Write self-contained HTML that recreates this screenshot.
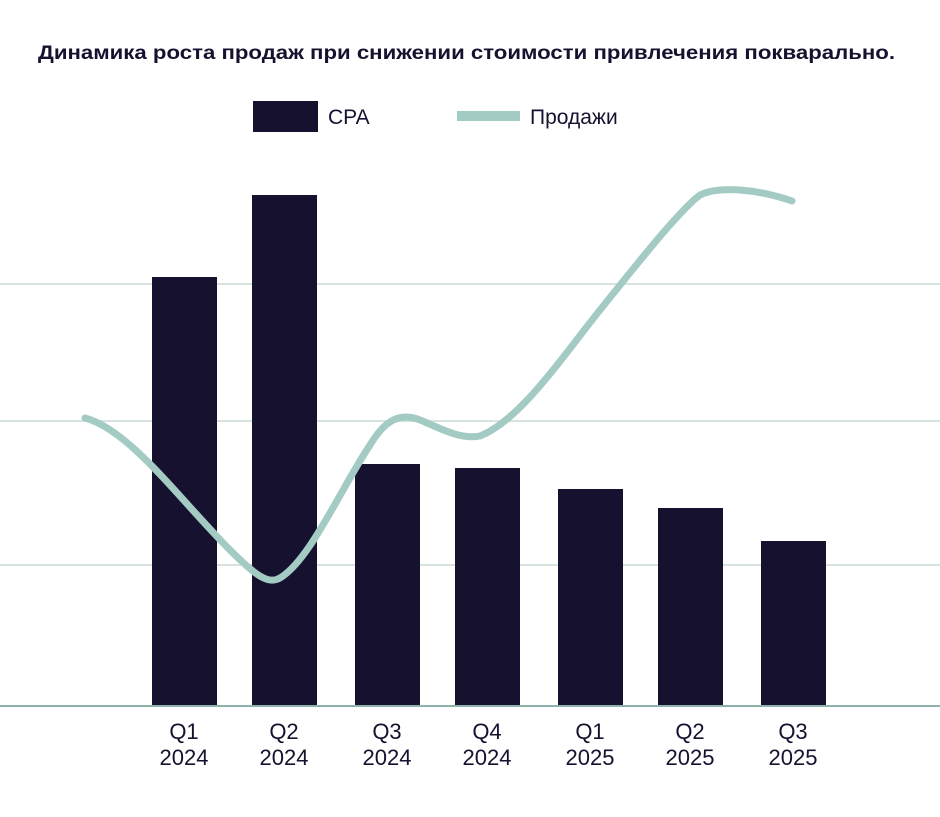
<!DOCTYPE html>
<html><head><meta charset="utf-8"><style>html,body{margin:0;padding:0;background:#fff}svg{display:block}</style></head>
<body>
<svg width="940" height="817" viewBox="0 0 940 817" xmlns="http://www.w3.org/2000/svg" font-family="Liberation Sans, sans-serif">
<rect width="940" height="817" fill="#fff"/>
<text x="38" y="59" font-size="19" font-weight="bold" fill="#15112e" textLength="857" lengthAdjust="spacingAndGlyphs">Динамика роста продаж при снижении стоимости привлечения покварально.</text>
<rect x="253" y="101" width="65" height="31" fill="#15112e"/>
<text x="328" y="124" font-size="21" fill="#15112e">CPA</text>
<rect x="457" y="111" width="63" height="10" fill="#a3cbc4"/>
<text x="530" y="124" font-size="21" fill="#15112e">Продажи</text>
<g stroke="#d6e3e0" stroke-width="2">
<line x1="0" y1="284" x2="940" y2="284"/>
<line x1="0" y1="421" x2="940" y2="421"/>
<line x1="0" y1="565" x2="940" y2="565"/>
</g>
<g fill="#15112e">
<rect x="152" y="277" width="65" height="429"/>
<rect x="252" y="195" width="65" height="511"/>
<rect x="355" y="464" width="65" height="242"/>
<rect x="455" y="468" width="65" height="238"/>
<rect x="558" y="489" width="65" height="217"/>
<rect x="658" y="508" width="65" height="198"/>
<rect x="761" y="541" width="65" height="165"/>
</g>
<line x1="0" y1="706" x2="940" y2="706" stroke="#8fb0ab" stroke-width="2"/>
<path d="M85,418 C130,430 180,500 230,550 C255,575 268,585 280,578 C310,560 340,490 370,445 C385,420 400,412 420,420 C440,428 460,440 480,436 C520,420 560,360 600,310 C640,260 680,210 700,195 C720,185 760,190 792,201" fill="none" stroke="#a3cbc4" stroke-width="7" stroke-linecap="round"/>
<g font-size="22" fill="#15112e" text-anchor="middle">
<text x="184" y="739">Q1</text><text x="184" y="765">2024</text>
<text x="284" y="739">Q2</text><text x="284" y="765">2024</text>
<text x="387" y="739">Q3</text><text x="387" y="765">2024</text>
<text x="487" y="739">Q4</text><text x="487" y="765">2024</text>
<text x="590" y="739">Q1</text><text x="590" y="765">2025</text>
<text x="690" y="739">Q2</text><text x="690" y="765">2025</text>
<text x="793" y="739">Q3</text><text x="793" y="765">2025</text>
</g>
</svg>
</body></html>
